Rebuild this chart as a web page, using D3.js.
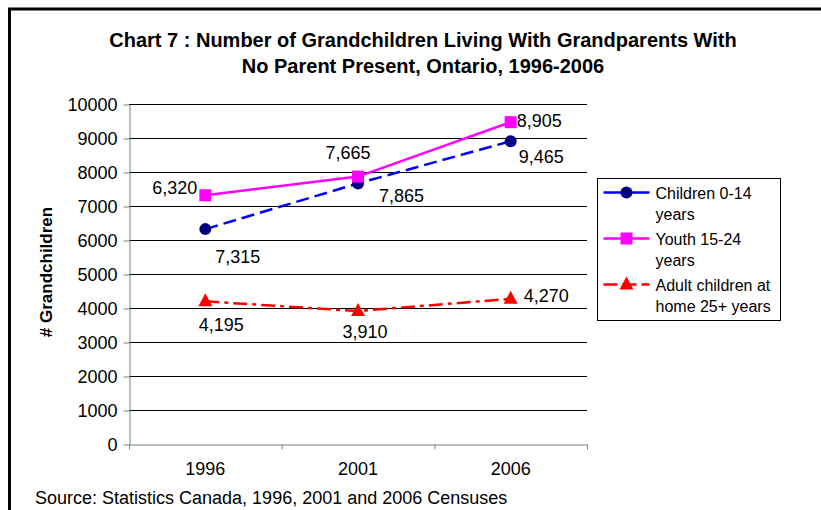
<!DOCTYPE html>
<html>
<head>
<meta charset="utf-8">
<script src="https://cdn.jsdelivr.net/npm/d3@7"></script>
<style>
  body { margin: 0; background: #fff; }
  svg { display: block; font-family: "Liberation Sans", Arial, sans-serif; }
  .axis path, .axis line { stroke: #808080; }
  .axis text { font-size: 18px; fill: #000; }
</style>
</head>
<body>
<svg></svg>
<script>
const size = {w: 821, h: 510};
const plot = {l: 129, r: 587, t: 104, b: 444};

const years = ['1996', '2001', '2006'];
const childrenVals = [6320, 7665, 8905];
const youthVals = [7315, 7865, 9465];
const adultVals = [4195, 3910, 4270];
// labels as printed on the original chart (they sit next to the other series)
const childrenLabels = ['7,315', '7,865', '9,465'];
const youthLabels = ['6,320', '7,665', '8,905'];
const adultLabels = ['4,195', '3,910', '4,270'];
const yTicks = [0, 1000, 2000, 3000, 4000, 5000, 6000, 7000, 8000, 9000, 10000];

const series = [
    {name: 'Children 0-14 years', lines: ['Children 0-14', 'years'], values: childrenVals, labels: childrenLabels,
     color: '#0000ff', marker: '#000080', shape: 'circle', dash: '13,6'},
    {name: 'Youth 15-24 years', lines: ['Youth 15-24', 'years'], values: youthVals, labels: youthLabels,
     color: '#ff00ff', marker: '#ff00ff', shape: 'square', dash: null},
    {name: 'Adult children at home 25+ years', lines: ['Adult children at', 'home 25+ years'], values: adultVals, labels: adultLabels,
     color: '#ff0000', marker: '#ff0000', shape: 'triangle', dash: '14,5,4,5'}
];

// label placement per series/point: [anchor, dx, dy of text centre]
const labelPos = {
    'Children 0-14 years': [['start', 10, 27], ['start', 21, 12], ['start', 8, 15]],
    'Youth 15-24 years': [['end', -8, -8], ['middle', -10, -24], ['start', 6, -2]],
    'Adult children at home 25+ years': [['middle', 16, 23], ['middle', 7, 20], ['start', 13, -3]]
};

const svg = d3.select('svg').attr('width', size.w).attr('height', size.h);

// outer frame (runs off the right and bottom edges)
svg.append('rect')
    .attr('x', 9.5).attr('y', 9)
    .attr('width', 900).attr('height', 600)
    .attr('fill', 'none').attr('stroke', '#000').attr('stroke-width', 3);

// title
const title = svg.append('text')
    .attr('text-anchor', 'middle')
    .attr('font-weight', 'bold')
    .attr('font-size', 20);
title.append('tspan').attr('x', 423).attr('y', 47)
    .text('Chart 7 : Number of Grandchildren Living With Grandparents With');
title.append('tspan').attr('x', 423).attr('y', 73)
    .text('No Parent Present, Ontario, 1996-2006');

const x = d3.scaleBand().domain(years).range([plot.l, plot.r]);
const y = d3.scaleLinear().domain([0, 10000]).range([plot.b, plot.t]);

// gridlines
svg.append('g').selectAll('line')
    .data(yTicks.filter(d => d > 0))
    .join('line')
    .attr('x1', plot.l).attr('x2', plot.r)
    .attr('y1', d => y(d) + 0.5).attr('y2', d => y(d) + 0.5)
    .attr('stroke', '#000').attr('stroke-width', 1);

// y axis
svg.append('g').classed('axis', true)
    .attr('transform', `translate(${plot.l + 0.5}, 0.5)`)
    .call(d3.axisLeft(y).tickValues(yTicks).tickSize(6).tickSizeOuter(0).tickPadding(6).tickFormat(d3.format('d')))
    .call(g => g.selectAll('text').attr('dy', '0.36em'));

// x axis
const xAxis = svg.append('g').classed('axis', true)
    .attr('transform', `translate(0, ${plot.b + 0.5})`)
    .call(d3.axisBottom(x).tickSize(0).tickPadding(18));
xAxis.selectAll('.tick text').attr('dy', '0.71em');
xAxis.selectAll('.boundary')
    .data(d3.range(years.length + 1))
    .join('line')
    .attr('x1', i => plot.l + i * x.step() + 0.5).attr('x2', i => plot.l + i * x.step() + 0.5)
    .attr('y1', 0).attr('y2', 5)
    .attr('stroke', '#808080');

// y axis title
svg.append('text')
    .attr('transform', 'translate(52, 272) rotate(-90)')
    .attr('text-anchor', 'middle')
    .attr('font-weight', 'bold')
    .attr('font-size', 17)
    .text('# Grandchildren');

const cx = yr => x(yr) + x.bandwidth() / 2;

function drawMarker(g, s, px, py) {
    if (s.shape === 'circle') {
        g.append('circle').attr('cx', px).attr('cy', py).attr('r', 6).attr('fill', s.marker);
    } else if (s.shape === 'square') {
        g.append('rect').attr('x', px - 6).attr('y', py - 6).attr('width', 12).attr('height', 12).attr('fill', s.marker);
    } else {
        g.append('path').attr('d', `M${px},${py - 8}L${px + 7},${py + 5}L${px - 7},${py + 5}Z`).attr('fill', s.marker);
    }
}

const line = d3.line().x((d, i) => cx(years[i])).y(d => y(d));

series.forEach(s => {
    const g = svg.append('g');
    g.append('path')
        .attr('d', line(s.values))
        .attr('fill', 'none')
        .attr('stroke', s.color)
        .attr('stroke-width', 2.5)
        .attr('stroke-dasharray', s.dash);
    s.values.forEach((v, i) => drawMarker(g, s, cx(years[i]), y(v)));
    s.labels.forEach((lab, i) => {
        const p = labelPos[s.name][i];
        g.append('text')
            .attr('x', cx(years[i]) + p[1])
            .attr('y', y(s.values[i]) + p[2])
            .attr('dy', '0.36em')
            .attr('text-anchor', p[0])
            .attr('font-size', 18)
            .text(lab);
    });
});

// legend
const legend = svg.append('g').attr('transform', 'translate(597.5, 178.5)');
legend.append('rect').attr('width', 183).attr('height', 142)
    .attr('fill', '#fff').attr('stroke', '#000').attr('stroke-width', 1);
series.forEach((s, i) => {
    const row = legend.append('g').attr('transform', `translate(0, ${14 + i * 46})`);
    row.append('line').attr('x1', 6).attr('x2', 52).attr('y1', 0).attr('y2', 0)
        .attr('stroke', s.color).attr('stroke-width', 2.5)
        .attr('stroke-dasharray', s.shape === 'triangle' ? '14,5' : null);
    drawMarker(row, s, 29, 0);
    s.lines.forEach((t, j) => {
        row.append('text').attr('x', 58).attr('y', 6 + j * 21)
            .attr('font-size', 16).text(t);
    });
});

// source
svg.append('text')
    .attr('x', 35).attr('y', 504)
    .attr('font-size', 18)
    .text('Source: Statistics Canada, 1996, 2001 and 2006 Censuses');
</script>
</body>
</html>
